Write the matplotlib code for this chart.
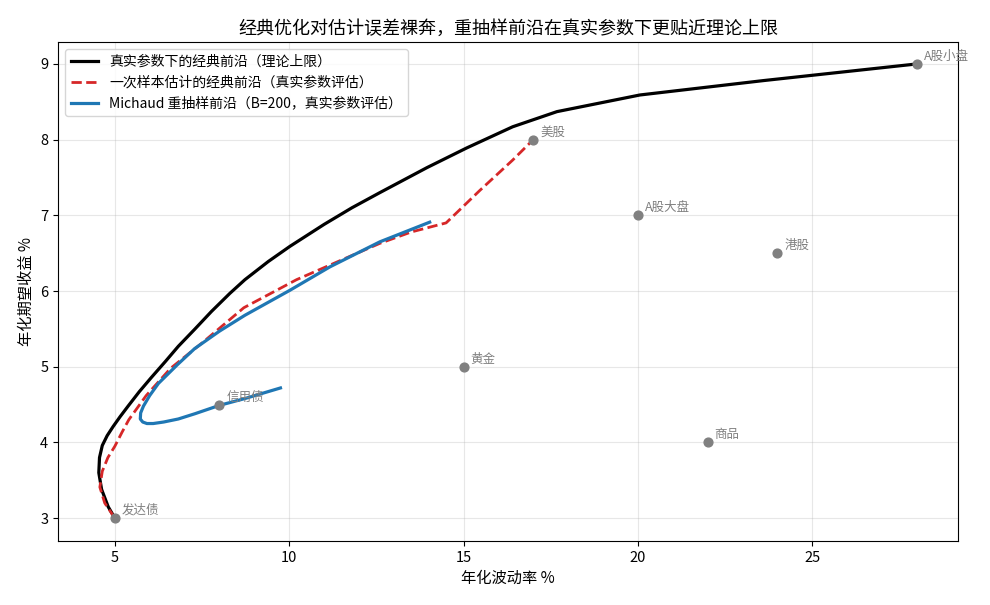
import matplotlib.pyplot as plt

plt.rcParams["font.family"] = ["Noto Sans CJK SC", "DejaVu Sans"]
plt.rcParams["axes.unicode_minus"] = False

# assets (annual volatility %, expected return %)
asset_names = ["发达债", "信用债", "黄金", "美股", "A股大盘", "港股", "商品", "A股小盘"]
asset_vol = [5, 8, 15, 17, 20, 24, 22, 28]
asset_ret = [3, 4.5, 5, 8, 7, 6.5, 4, 9]

# true-parameter classic frontier
true_vol = [5.00, 4.81, 4.62, 4.54, 4.56, 4.64, 4.78, 4.95, 5.15, 5.38, 5.70, 6.05,
            6.45, 6.82, 7.30, 7.77, 8.30, 8.73, 9.40, 10.02, 11.00, 11.80, 12.60,
            13.95, 15.09, 16.41, 17.68, 20.06, 23.60, 28.00]
true_ret = [3.00, 3.15, 3.38, 3.60, 3.80, 3.96, 4.09, 4.21, 4.34, 4.48, 4.67, 4.86,
            5.07, 5.27, 5.50, 5.73, 5.97, 6.15, 6.39, 6.59, 6.88, 7.10, 7.30,
            7.63, 7.89, 8.17, 8.37, 8.59, 8.78, 9.00]

# one-sample estimated frontier, evaluated with true parameters
sample_vol = [5.00, 4.71, 4.57, 4.64, 4.80, 5.00, 5.20, 5.40, 5.90, 6.60, 7.49,
              8.70, 10.21, 11.65, 12.60, 13.50, 14.50, 15.47, 16.41, 17.00]
sample_ret = [3.00, 3.20, 3.41, 3.62, 3.80, 3.95, 4.13, 4.30, 4.62, 4.98, 5.31,
              5.78, 6.15, 6.44, 6.63, 6.78, 6.90, 7.33, 7.73, 8.00]

# Michaud resampled frontier (B=200), evaluated with true parameters
michaud_vol = [9.75, 8.73, 8.00, 7.30, 6.82, 6.40, 6.10, 5.92, 5.80, 5.73, 5.74,
               5.82, 6.00, 6.25, 6.80, 7.29, 8.00, 8.73, 10.02, 11.17, 12.60, 14.03]
michaud_ret = [4.72, 4.58, 4.49, 4.38, 4.31, 4.27, 4.25, 4.25, 4.27, 4.31, 4.39,
               4.48, 4.62, 4.78, 5.03, 5.24, 5.47, 5.68, 6.01, 6.32, 6.65, 6.91]


def main() -> None:
    fig = plt.figure(figsize=(9.9, 6.05), dpi=100)
    ax = fig.add_axes([0.0586, 0.106, 0.909, 0.8246])

    ax.plot(true_vol, true_ret, color="black", lw=2.3, label="真实参数下的经典前沿（理论上限）")
    ax.plot(sample_vol, sample_ret, color="#d62728", lw=2.0, ls="--",
            label="一次样本估计的经典前沿（真实参数评估）")
    ax.plot(michaud_vol, michaud_ret, color="#1f77b4", lw=2.3,
            label="Michaud 重抽样前沿（B=200，真实参数评估）")

    ax.scatter(asset_vol, asset_ret, s=40, color="gray", zorder=3)
    for name, v, r in zip(asset_names, asset_vol, asset_ret):
        ax.annotate(name, (v, r), xytext=(5, 3), textcoords="offset points",
                    fontsize=9, color="gray")

    ax.set_xlim(3.37, 29.18)
    ax.set_ylim(2.70, 9.29)
    ax.set_xticks([5, 10, 15, 20, 25])
    ax.set_yticks([3, 4, 5, 6, 7, 8, 9])
    ax.tick_params(labelsize=10.5)
    ax.grid(True, alpha=0.3)

    ax.set_xlabel("年化波动率 %", fontsize=11)
    ax.set_ylabel("年化期望收益 %", fontsize=11)
    ax.set_title("经典优化对估计误差裸奔，重抽样前沿在真实参数下更贴近理论上限", fontsize=13)
    ax.legend(loc="upper left", fontsize=10)

    fig.savefig("out.png", dpi=100)


if __name__ == "__main__":
    main()
